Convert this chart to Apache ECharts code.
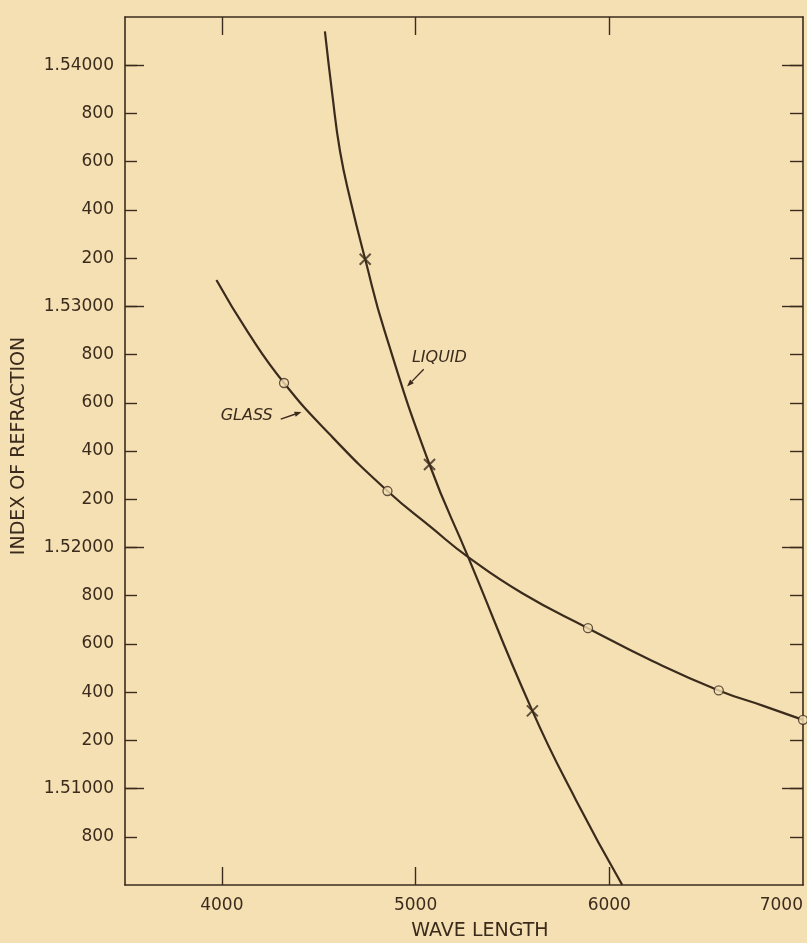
<!DOCTYPE html>
<html><head><meta charset="utf-8">
<script src="https://cdn.jsdelivr.net/npm/echarts@6/dist/echarts.min.js"></script>
<style>html,body{margin:0;padding:0;background:#f5e0b4}#c{width:807px;height:943px}</style>
</head><body><div id="c"></div>
<script>
// ---- data ----
const glassWave  = [3972, 4136, 4321, 4558, 4855, 5081, 5270, 5551, 5890, 6228, 6565, 6799, 7000];
const glassIndex = [1.53109, 1.52891, 1.52682, 1.52468, 1.52234, 1.52083, 1.51961, 1.51810, 1.51665, 1.51527, 1.51407, 1.51342, 1.51285];
const glassPointWave  = [4321, 4855, 5890, 6565, 7000];
const glassPointIndex = [1.52682, 1.52234, 1.51665, 1.51407, 1.51285];
const liquidWave  = [4532, 4570, 4610, 4665, 4740, 4840, 5072, 5270, 5603, 5827, 6067];
const liquidIndex = [1.5414, 1.5388, 1.53643, 1.53436, 1.53195, 1.52898, 1.52344, 1.51963, 1.51322, 1.50954, 1.5060];
const liquidPointWave  = [4740, 5072, 5603];
const liquidPointIndex = [1.53195, 1.52344, 1.51322];
const xTickValues  = [4000, 5000, 6000];
const xLabelValues = [4000, 5000, 6000, 7000];
const yTickValues = [1.508,1.510,1.512,1.514,1.516,1.518,1.520,1.522,1.524,1.526,1.528,1.530,1.532,1.534,1.536,1.538,1.540];
const yTickLabels = ['800','1.51000','200','400','600','800','1.52000','200','400','600','800','1.53000','200','400','600','800','1.54000'];
const yMajorValues = [1.51, 1.52, 1.53, 1.54];

const INK = '#3b2b1c', BG = '#f5e0b4';
const FONT = 'DejaVu Sans';
const zip = (a, b) => a.map((v, i) => [v, b[i]]);
const axisLine = {show: true, onZero: false, lineStyle: {color: INK, width: 1.6}};
const tickStyle = {color: INK, width: 1.4};
const X = {min: 3500, max: 7000};
const Y = {min: 1.506, max: 1.542};

const chart = echarts.init(document.getElementById('c'), null, {renderer: 'canvas'});
chart.setOption({
  animation: false,
  backgroundColor: BG,
  grid: {left: 125, right: 4, top: 17, bottom: 58, outerBoundsMode: 'none', containLabel: false},
  xAxis: [
    {type: 'value', position: 'bottom', ...X, axisLine,
     axisTick: {show: true, inside: true, length: 18, customValues: xTickValues, lineStyle: tickStyle},
     axisLabel: {customValues: xLabelValues, margin: 12, color: INK, fontFamily: FONT, fontSize: 17,
       alignMaxLabel: 'right', formatter: v => String(Math.round(v))},
     splitLine: {show: false}},
    {type: 'value', position: 'top', ...X, axisLine,
     axisTick: {show: true, inside: true, length: 18, customValues: xTickValues, lineStyle: tickStyle},
     axisLabel: {show: false}, splitLine: {show: false}}
  ],
  yAxis: [
    {type: 'value', position: 'left', ...Y, axisLine,
     axisTick: {show: true, inside: true, length: 12, customValues: yTickValues, lineStyle: tickStyle},
     axisLabel: {customValues: yTickValues, margin: 11, color: INK, fontFamily: FONT, fontSize: 17,
       formatter: v => { const i = yTickValues.findIndex(t => Math.abs(t - v) < 1e-7); return i >= 0 ? yTickLabels[i] : ''; }},
     splitLine: {show: false}},
    {type: 'value', position: 'left', ...Y, axisLine: {show: false},
     axisTick: {show: true, inside: true, length: 19, customValues: yMajorValues, lineStyle: tickStyle},
     axisLabel: {show: false}, splitLine: {show: false}},
    {type: 'value', position: 'right', ...Y, axisLine,
     axisTick: {show: true, inside: true, length: 13, customValues: yTickValues, lineStyle: tickStyle},
     axisLabel: {show: false}, splitLine: {show: false}},
    {type: 'value', position: 'right', ...Y, axisLine: {show: false},
     axisTick: {show: true, inside: true, length: 21, customValues: yMajorValues, lineStyle: tickStyle},
     axisLabel: {show: false}, splitLine: {show: false}}
  ],
  series: [
    {type: 'line', name: 'Glass', data: zip(glassWave, glassIndex), smooth: 0.5,
     showSymbol: false, lineStyle: {color: INK, width: 2.2}, z: 2},
    {type: 'line', name: 'Liquid', data: zip(liquidWave, liquidIndex), smooth: 0.5,
     showSymbol: false, lineStyle: {color: INK, width: 2.2}, z: 2},
    {type: 'scatter', name: 'Glass points', data: zip(glassPointWave, glassPointIndex), symbol: 'circle', symbolSize: 9,
     itemStyle: {color: BG, borderColor: INK, borderWidth: 1.3}, z: 4, clip: false},
    {type: 'scatter', name: 'Liquid points', data: zip(liquidPointWave, liquidPointIndex),
     symbol: 'path://M0,0L10,10M10,0L0,10', symbolSize: 11,
     itemStyle: {color: 'none', borderColor: INK, borderWidth: 2}, z: 4}
  ]
});

// annotations placed in data coordinates
const px = (x, y) => chart.convertToPixel({xAxisIndex: 0, yAxisIndex: 0}, [x, y]);
function arrow(a, b) {
  const p = px(a[0], a[1]), q = px(b[0], b[1]);
  const dx = q[0] - p[0], dy = q[1] - p[1], L = Math.hypot(dx, dy), ux = dx / L, uy = dy / L;
  const h = 7, w = 2.6;
  const base = [q[0] - ux * h, q[1] - uy * h];
  return [
    {type: 'polyline', shape: {points: [p, base]}, style: {stroke: INK, lineWidth: 1.4, fill: null}},
    {type: 'polygon', shape: {points: [q, [base[0] - uy * w, base[1] + ux * w], [base[0] + uy * w, base[1] - ux * w]]},
     style: {fill: INK}}
  ];
}
const lp = px(5123, 1.52785), gp = px(4128, 1.52546);
chart.setOption({graphic: [
  {type: 'text', x: lp[0], y: lp[1], style: {text: 'LIQUID', fill: INK, font: 'italic 16px "DejaVu Sans"', align: 'center', verticalAlign: 'middle'}},
  {type: 'text', x: gp[0], y: gp[1], style: {text: 'GLASS', fill: INK, font: 'italic 16px "DejaVu Sans"', align: 'center', verticalAlign: 'middle'}},
  ...arrow([5042, 1.52739], [4956, 1.52668]),
  ...arrow([4304, 1.52532], [4411, 1.52562]),
  {type: 'text', x: 480, y: 931, style: {text: 'WAVE LENGTH', fill: INK, font: '19px "DejaVu Sans"', align: 'center', verticalAlign: 'middle'}},
  {type: 'text', x: 19, y: 446, rotation: Math.PI / 2, style: {text: 'INDEX OF REFRACTION', fill: INK, font: '19px "DejaVu Sans"', align: 'center', verticalAlign: 'middle'}}
]});
</script></body></html>
